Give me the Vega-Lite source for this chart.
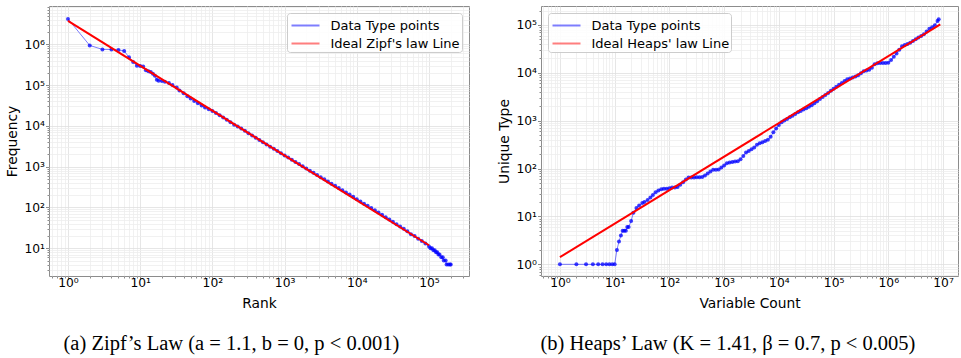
{
  "$schema": "https://vega.github.io/schema/vega-lite/v6.json",
  "padding": {"left": 5, "top": 5, "right": 0, "bottom": 0},
  "spacing": 27,
  "resolve": {"scale": {"color": "independent"}, "legend": {"color": "independent"}},
  "datasets": {
    "zipfData": [
      {"x":1,"y":4200000},{"x":2,"y":940000},{"x":3,"y":750000},{"x":4,"y":745000},{"x":5,"y":730000},{"x":6,"y":690000},{"x":7,"y":480000},{"x":8,"y":370000},{"x":9,"y":300000},{"x":10,"y":295000},{"x":11,"y":285000},{"x":12,"y":230000},{"x":13,"y":220000},{"x":14,"y":210000},{"x":15,"y":190000},{"x":16,"y":170000},{"x":17,"y":135000},
      {"x":18,"y":128800},{"x":20,"y":125900},{"x":22,"y":120200},{"x":25,"y":112200},{"x":28,"y":100000},{"x":32,"y":87100},{"x":35,"y":74100},{"x":40,"y":63100},{"x":45,"y":53700},{"x":50,"y":46800},{"x":56,"y":40700},{"x":63,"y":35900},{"x":71,"y":31600},{"x":79,"y":28200},{"x":89,"y":25700},
      {"x":100,"y":23200},{"x":112,"y":20700},{"x":126,"y":18200},{"x":141,"y":16000},{"x":158,"y":14100},{"x":178,"y":12300},{"x":200,"y":10700},{"x":224,"y":9660},{"x":251,"y":8610},{"x":282,"y":7590},{"x":316,"y":6610},{"x":355,"y":5820},{"x":398,"y":5130},{"x":447,"y":4520},{"x":501,"y":3980},{"x":562,"y":3510},{"x":631,"y":3090},{"x":708,"y":2750},{"x":794,"y":2430},{"x":891,"y":2140},
      {"x":1000,"y":1880},{"x":1122,"y":1680},{"x":1259,"y":1480},{"x":1413,"y":1300},{"x":1585,"y":1160},{"x":1778,"y":1023},{"x":1995,"y":902},{"x":2239,"y":794},{"x":2512,"y":708},{"x":2818,"y":624},{"x":3162,"y":550},{"x":3548,"y":490},{"x":3981,"y":432},{"x":4467,"y":380},{"x":5012,"y":339},{"x":5623,"y":299},{"x":6310,"y":263},{"x":7079,"y":234},{"x":7943,"y":207},{"x":8913,"y":182},
      {"x":10000,"y":160},{"x":11220,"y":141},{"x":12590,"y":124},{"x":14130,"y":110},{"x":15850,"y":97},{"x":17780,"y":85},{"x":19950,"y":75},{"x":22390,"y":66},{"x":25120,"y":58},{"x":28180,"y":51},{"x":31620,"y":45},{"x":35480,"y":39},{"x":39810,"y":34},{"x":44670,"y":30},{"x":50120,"y":26},{"x":56230,"y":22},{"x":63100,"y":20},{"x":70790,"y":17},{"x":79430,"y":15},{"x":89130,"y":13},
      {"x":100000,"y":11},{"x":105000,"y":10},{"x":110000,"y":10},{"x":115000,"y":9},{"x":120000,"y":9},{"x":125000,"y":8},{"x":130000,"y":8},{"x":135000,"y":7},{"x":140000,"y":7},{"x":148000,"y":6},{"x":155000,"y":6},{"x":160000,"y":5},{"x":170000,"y":5},{"x":175000,"y":4},{"x":185000,"y":4},{"x":195000,"y":4},{"x":200000,"y":4}
    ],
    "zipfIdeal": [{"x":1,"y":3750000},{"x":100000,"y":11.86}],
    "heapsData": [
      {"x":1,"y":1},{"x":2,"y":1},{"x":3,"y":1},{"x":4,"y":1},{"x":5,"y":1},{"x":6,"y":1},{"x":7,"y":1},{"x":8,"y":1},{"x":9,"y":1},{"x":10,"y":1},{"x":11,"y":2},{"x":12,"y":3},{"x":13,"y":4},{"x":14,"y":5},{"x":15,"y":5},{"x":16,"y":5},{"x":17,"y":6},{"x":18,"y":6},
      {"x":20,"y":8},{"x":22,"y":12},{"x":25,"y":15},{"x":28,"y":17},{"x":32,"y":19},{"x":35,"y":20},{"x":40,"y":22},{"x":45,"y":25},{"x":50,"y":28},{"x":56,"y":32},{"x":63,"y":35},{"x":71,"y":37},{"x":79,"y":38},{"x":89,"y":38},
      {"x":100,"y":39},{"x":112,"y":40},{"x":126,"y":40},{"x":141,"y":41},{"x":158,"y":46},{"x":178,"y":52},{"x":200,"y":59},{"x":224,"y":65},{"x":251,"y":65},{"x":282,"y":65},{"x":316,"y":66},{"x":355,"y":66},{"x":398,"y":67},{"x":447,"y":72},{"x":501,"y":79},{"x":562,"y":87},{"x":631,"y":94},{"x":708,"y":95},{"x":794,"y":96},{"x":891,"y":105},
      {"x":1000,"y":116},{"x":1122,"y":129},{"x":1259,"y":134},{"x":1413,"y":137},{"x":1585,"y":140},{"x":1778,"y":143},{"x":1995,"y":156},{"x":2239,"y":184},{"x":2512,"y":216},{"x":2818,"y":233},{"x":3162,"y":252},{"x":3548,"y":274},{"x":3981,"y":313},{"x":4467,"y":337},{"x":5012,"y":356},{"x":5623,"y":377},{"x":6310,"y":398},{"x":7079,"y":461},{"x":7943,"y":574},{"x":8913,"y":687},
      {"x":10000,"y":811},{"x":11220,"y":931},{"x":12590,"y":1007},{"x":14130,"y":1091},{"x":15850,"y":1180},{"x":17780,"y":1276},{"x":19950,"y":1384},{"x":22390,"y":1493},{"x":25120,"y":1596},{"x":28180,"y":1706},{"x":31620,"y":1820},{"x":35480,"y":1945},{"x":39810,"y":2104},{"x":44670,"y":2323},{"x":50120,"y":2564},{"x":56230,"y":2831},{"x":63100,"y":3126},{"x":70790,"y":3451},{"x":79430,"y":3811},{"x":89130,"y":4207},
      {"x":100000,"y":4645},{"x":112200,"y":5129},{"x":125900,"y":5623},{"x":141300,"y":6138},{"x":158500,"y":6714},{"x":177800,"y":7328},{"x":199500,"y":7656},{"x":223900,"y":7998},{"x":251200,"y":8356},{"x":281800,"y":8892},{"x":316200,"y":9817},{"x":354800,"y":10839},{"x":398100,"y":11246},{"x":446700,"y":11641},{"x":501200,"y":12823},{"x":562300,"y":15031},{"x":631000,"y":15885},{"x":707900,"y":15959},{"x":794300,"y":16069},{"x":891300,"y":16144},
      {"x":1000000,"y":16255},{"x":1122000,"y":18450},{"x":1259000,"y":21677},{"x":1413000,"y":25410},{"x":1585000,"y":30200},{"x":1778000,"y":36060},{"x":1995000,"y":38190},{"x":2239000,"y":40270},{"x":2512000,"y":42460},{"x":2818000,"y":46240},{"x":3162000,"y":50470},{"x":3548000,"y":54700},{"x":3981000,"y":59160},{"x":4467000,"y":64270},{"x":5012000,"y":73110},{"x":5623000,"y":83180},{"x":6310000,"y":89130},{"x":7079000,"y":98860},{"x":7943000,"y":120780},{"x":8318000,"y":131200}
    ],
    "heapsIdeal": [{"x":1,"y":1.41},{"x":8900000,"y":103300}]
  },
  "hconcat": [
    {
      "width": 420,
      "height": 270,
      "title": {"text": "(a)  Zipf’s Law (a = 1.1, b = 0, p < 0.001)", "dx": -6},
      "layer": [
        {
          "data": {"name": "zipfData"},
          "mark": {"type": "line", "strokeWidth": 1, "opacity": 0.5, "clip": true},
          "encoding": {
            "x": {"field": "x", "type": "quantitative", "title": "Rank",
              "scale": {"type": "log", "domain": [0.546, 358000], "nice": false, "zero": false},
              "axis": {
                "values": [0.6,0.7,0.8,0.9,1,2,3,4,5,6,7,8,9,10,20,30,40,50,60,70,80,90,100,200,300,400,500,600,700,800,900,1000,2000,3000,4000,5000,6000,7000,8000,9000,10000,20000,30000,40000,50000,60000,70000,80000,90000,100000,200000,300000],
                "labelExpr": "abs(log(datum.value)/LN10-round(log(datum.value)/LN10))<0.001 ? '10' + ['⁰','¹','²','³','⁴','⁵','⁶','⁷'][round(log(datum.value)/LN10)] : ''",
                "labelFontSize": {"condition": {"test": "abs(log(datum.value)/LN10-round(log(datum.value)/LN10))<0.001", "value": 12.3}, "value": 0},
                "tickSize": {"condition": {"test": "abs(log(datum.value)/LN10-round(log(datum.value)/LN10))<0.001", "value": 3.5}, "value": 2},
                "gridColor": {"condition": {"test": "abs(log(datum.value)/LN10-round(log(datum.value)/LN10))<0.001", "value": "#e0e0e0"}, "value": "#eeeeee"},
                "labelPadding": -3,
                "titlePadding": 8
              }
            },
            "y": {"field": "y", "type": "quantitative", "title": "Frequency",
              "scale": {"type": "log", "domain": [2.09, 8700000], "nice": false, "zero": false},
              "axis": {
                "values": [3,4,5,6,7,8,9,10,20,30,40,50,60,70,80,90,100,200,300,400,500,600,700,800,900,1000,2000,3000,4000,5000,6000,7000,8000,9000,10000,20000,30000,40000,50000,60000,70000,80000,90000,100000,200000,300000,400000,500000,600000,700000,800000,900000,1000000,2000000,3000000,4000000,5000000,6000000,7000000,8000000],
                "labelExpr": "abs(log(datum.value)/LN10-round(log(datum.value)/LN10))<0.001 ? '10' + ['⁰','¹','²','³','⁴','⁵','⁶','⁷'][round(log(datum.value)/LN10)] : ''",
                "labelFontSize": {"condition": {"test": "abs(log(datum.value)/LN10-round(log(datum.value)/LN10))<0.001", "value": 12.3}, "value": 0},
                "tickSize": {"condition": {"test": "abs(log(datum.value)/LN10-round(log(datum.value)/LN10))<0.001", "value": 3.5}, "value": 2},
                "gridColor": {"condition": {"test": "abs(log(datum.value)/LN10-round(log(datum.value)/LN10))<0.001", "value": "#e0e0e0"}, "value": "#eeeeee"}
              }
            },
            "color": {"datum": "Data Type points",
              "scale": {"domain": ["Data Type points", "Ideal Zipf's law Line"], "range": ["#0000ff", "#ff0000"]},
              "legend": {"orient": "top-right",
                "encode": {"symbols": {
                  "shape": {"condition": {"test": "datum.value === 'Data Type points'", "value": "M-1.4,0H1.4M-0.18,0A0.18,0.18,0,1,0,0.18,0A0.18,0.18,0,1,0,-0.18,0"}, "value": "M-1.4,0H1.4"},
                  "strokeWidth": {"condition": {"test": "datum.value === 'Data Type points'", "value": 1}, "value": 2},
                  "opacity": {"condition": {"test": "datum.value === 'Data Type points'", "value": 0.6}, "value": 1},
                  "fill": {"value": "#0000ff"}
                }}
              }
            }
          }
        },
        {
          "data": {"name": "zipfData"},
          "mark": {"type": "point", "filled": true, "size": 16, "color": "#0000ff", "opacity": 0.75, "clip": true},
          "encoding": {
            "x": {"field": "x", "type": "quantitative"},
            "y": {"field": "y", "type": "quantitative"}
          }
        },
        {
          "data": {"name": "zipfIdeal"},
          "mark": {"type": "line", "strokeWidth": 2, "clip": true},
          "encoding": {
            "x": {"field": "x", "type": "quantitative"},
            "y": {"field": "y", "type": "quantitative"},
            "color": {"datum": "Ideal Zipf's law Line"}
          }
        }
      ]
    },
    {
      "width": 417,
      "height": 270,
      "title": {"text": "(b)  Heaps’ Law (K = 1.41, β = 0.7, p < 0.005)"},
      "layer": [
        {
          "data": {"name": "heapsData"},
          "mark": {"type": "line", "strokeWidth": 1, "opacity": 0.5, "clip": true},
          "encoding": {
            "x": {"field": "x", "type": "quantitative", "title": "Variable Count",
              "scale": {"type": "log", "domain": [0.451, 18750000], "nice": false, "zero": false},
              "axis": {
                "values": [0.5,0.6,0.7,0.8,0.9,1,2,3,4,5,6,7,8,9,10,20,30,40,50,60,70,80,90,100,200,300,400,500,600,700,800,900,1000,2000,3000,4000,5000,6000,7000,8000,9000,10000,20000,30000,40000,50000,60000,70000,80000,90000,100000,200000,300000,400000,500000,600000,700000,800000,900000,1000000,2000000,3000000,4000000,5000000,6000000,7000000,8000000,9000000,10000000],
                "labelExpr": "abs(log(datum.value)/LN10-round(log(datum.value)/LN10))<0.001 ? '10' + ['⁰','¹','²','³','⁴','⁵','⁶','⁷'][round(log(datum.value)/LN10)] : ''",
                "labelFontSize": {"condition": {"test": "abs(log(datum.value)/LN10-round(log(datum.value)/LN10))<0.001", "value": 12.3}, "value": 0},
                "tickSize": {"condition": {"test": "abs(log(datum.value)/LN10-round(log(datum.value)/LN10))<0.001", "value": 3.5}, "value": 2},
                "gridColor": {"condition": {"test": "abs(log(datum.value)/LN10-round(log(datum.value)/LN10))<0.001", "value": "#e0e0e0"}, "value": "#eeeeee"},
                "labelPadding": -3,
                "titlePadding": 8
              }
            },
            "y": {"field": "y", "type": "quantitative", "title": "Unique Type",
              "scale": {"type": "log", "domain": [0.57, 249000], "nice": false, "zero": false},
              "axis": {
                "values": [0.6,0.7,0.8,0.9,1,2,3,4,5,6,7,8,9,10,20,30,40,50,60,70,80,90,100,200,300,400,500,600,700,800,900,1000,2000,3000,4000,5000,6000,7000,8000,9000,10000,20000,30000,40000,50000,60000,70000,80000,90000,100000,200000],
                "labelExpr": "abs(log(datum.value)/LN10-round(log(datum.value)/LN10))<0.001 ? '10' + ['⁰','¹','²','³','⁴','⁵','⁶','⁷'][round(log(datum.value)/LN10)] : ''",
                "labelFontSize": {"condition": {"test": "abs(log(datum.value)/LN10-round(log(datum.value)/LN10))<0.001", "value": 12.3}, "value": 0},
                "tickSize": {"condition": {"test": "abs(log(datum.value)/LN10-round(log(datum.value)/LN10))<0.001", "value": 3.5}, "value": 2},
                "gridColor": {"condition": {"test": "abs(log(datum.value)/LN10-round(log(datum.value)/LN10))<0.001", "value": "#e0e0e0"}, "value": "#eeeeee"}
              }
            },
            "color": {"datum": "Data Type points",
              "scale": {"domain": ["Data Type points", "Ideal Heaps' law Line"], "range": ["#0000ff", "#ff0000"]},
              "legend": {"orient": "top-left",
                "encode": {"symbols": {
                  "shape": {"condition": {"test": "datum.value === 'Data Type points'", "value": "M-1.4,0H1.4M-0.18,0A0.18,0.18,0,1,0,0.18,0A0.18,0.18,0,1,0,-0.18,0"}, "value": "M-1.4,0H1.4"},
                  "strokeWidth": {"condition": {"test": "datum.value === 'Data Type points'", "value": 1}, "value": 2},
                  "opacity": {"condition": {"test": "datum.value === 'Data Type points'", "value": 0.6}, "value": 1},
                  "fill": {"value": "#0000ff"}
                }}
              }
            }
          }
        },
        {
          "data": {"name": "heapsData"},
          "mark": {"type": "point", "filled": true, "size": 16, "color": "#0000ff", "opacity": 0.75, "clip": true},
          "encoding": {
            "x": {"field": "x", "type": "quantitative"},
            "y": {"field": "y", "type": "quantitative"}
          }
        },
        {
          "data": {"name": "heapsIdeal"},
          "mark": {"type": "line", "strokeWidth": 2, "clip": true},
          "encoding": {
            "x": {"field": "x", "type": "quantitative"},
            "y": {"field": "y", "type": "quantitative"},
            "color": {"datum": "Ideal Heaps' law Line"}
          }
        }
      ]
    }
  ],
  "config": {
    "font": "DejaVu Sans",
    "view": {"stroke": "#8c8c8c", "strokeWidth": 1},
    "axis": {
      "domain": false,
      "labelFont": "DejaVu Sans",
      "titleFont": "DejaVu Sans",
      "titleFontSize": 13.8,
      "titleFontWeight": "normal",
      "labelColor": "#000000",
      "titleColor": "#000000",
      "tickColor": "#8c8c8c",
      "gridWidth": 0.8,
      "labelPadding": 1,
      "titlePadding": 4,
      "labelFlush": false,
      "labelOverlap": false
    },
    "legend": {
      "title": null,
      "labelFont": "DejaVu Sans",
      "labelFontSize": 13,
      "labelColor": "#000000",
      "fillColor": "rgba(255,255,255,0.85)",
      "strokeColor": "#cccccc",
      "cornerRadius": 3,
      "padding": 1.5,
      "rowPadding": 0,
      "symbolSize": 400,
      "symbolType": "M-1.4,0H1.4",
      "symbolStrokeWidth": 2,
      "symbolOffset": 6,
      "labelOffset": 14,
      "offset": 7
    },
    "title": {
      "orient": "bottom",
      "anchor": "middle",
      "frame": "bounds",
      "font": "Liberation Serif",
      "fontSize": 20.5,
      "fontWeight": "normal",
      "color": "#000000",
      "offset": 23
    }
  }
}
